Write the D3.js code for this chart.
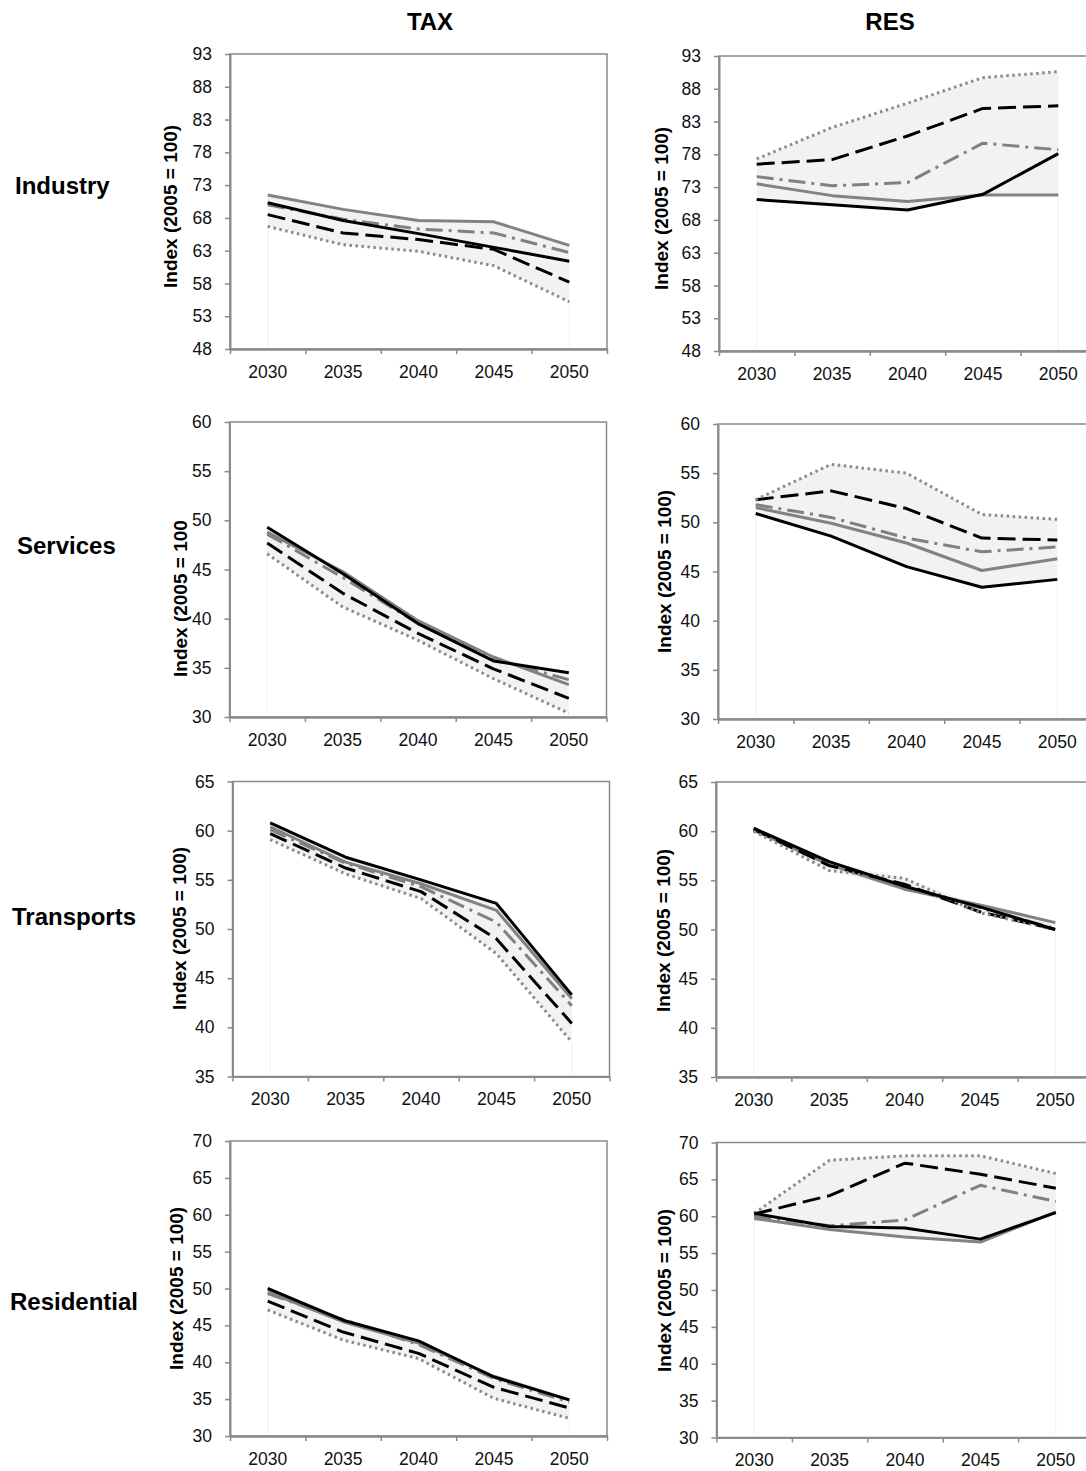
<!DOCTYPE html>
<html>
<head>
<meta charset="utf-8">
<script src="https://cdn.jsdelivr.net/npm/d3@7"></script>
<style>
  body { margin: 0; background: #fff; }
  svg { display: block; font-family: "Liberation Sans", Arial, sans-serif; }
</style>
</head>
<body>
<svg id="chart" width="1086" height="1471"></svg>
<script>
// ---- data -------------------------------------------------------------
const years = ["2030", "2035", "2040", "2045", "2050"];
const scenarios = ["TAX", "RES"];
const sectors = ["Industry", "Services", "Transports", "Residential"];
const seriesKeys = ["grey", "dashDot", "dashed", "dotted", "black"];

const industryTicks    = [48, 53, 58, 63, 68, 73, 78, 83, 88, 93];
const servicesTicks    = [30, 35, 40, 45, 50, 55, 60];
const transportsTicks  = [35, 40, 45, 50, 55, 60, 65];
const residentialTicks = [30, 35, 40, 45, 50, 55, 60, 65, 70];

const industryTAX = {
  grey:    [71.5, 69.3, 67.6, 67.4, 63.8],
  dashDot: [70.0, 67.8, 66.3, 65.7, 62.7],
  dashed:  [68.5, 65.7, 64.7, 63.2, 58.2],
  dotted:  [66.7, 63.9, 62.9, 60.7, 55.2],
  black:   [70.3, 67.6, 65.6, 63.5, 61.4]
};
const industryRES = {
  grey:    [73.5, 71.7, 70.8, 71.8, 71.8],
  dashDot: [74.6, 73.2, 73.7, 79.7, 78.7],
  dashed:  [76.5, 77.2, 80.8, 85.0, 85.4],
  dotted:  [77.3, 82.1, 85.8, 89.7, 90.6],
  black:   [71.1, 70.3, 69.5, 71.9, 78.1]
};
const servicesTAX = {
  grey:    [48.8, 44.8, 39.8, 36.1, 33.3],
  dashDot: [48.6, 44.2, 39.5, 35.9, 33.8],
  dashed:  [47.7, 42.6, 38.5, 34.9, 31.9],
  dotted:  [46.6, 41.2, 37.8, 33.9, 30.4],
  black:   [49.3, 44.6, 39.5, 35.7, 34.5]
};
const servicesRES = {
  grey:    [51.5, 49.9, 47.9, 45.1, 46.3],
  dashDot: [51.8, 50.5, 48.4, 47.0, 47.5],
  dashed:  [52.3, 53.2, 51.4, 48.4, 48.2],
  dotted:  [52.3, 55.9, 55.0, 50.8, 50.3],
  black:   [50.9, 48.6, 45.5, 43.4, 44.2]
};
const transportsTAX = {
  grey:    [60.4, 56.8, 54.6, 51.9, 42.9],
  dashDot: [60.1, 56.7, 54.3, 50.7, 42.2],
  dashed:  [59.7, 56.2, 53.8, 49.0, 40.4],
  dotted:  [59.1, 55.6, 53.1, 47.5, 38.5],
  black:   [60.8, 57.3, 55.0, 52.6, 43.3]
};
const transportsRES = {
  grey:    [60.1, 56.6, 54.1, 52.5, 50.7],
  dashDot: [60.2, 56.7, 54.3, 52.2, 50.1],
  dashed:  [60.2, 56.5, 54.6, 51.8, 50.0],
  dotted:  [60.0, 56.0, 55.2, 51.7, 50.0],
  black:   [60.3, 56.9, 54.4, 52.3, 50.0]
};
const residentialTAX = {
  grey:    [49.5, 45.5, 42.6, 38.1, 34.9],
  dashDot: [49.3, 45.8, 42.4, 37.8, 34.6],
  dashed:  [48.3, 44.1, 41.2, 36.6, 33.8],
  dotted:  [47.1, 43.0, 40.5, 35.1, 32.4],
  black:   [50.0, 45.7, 42.9, 38.0, 34.9]
};
const residentialRES = {
  grey:    [59.7, 58.2, 57.2, 56.5, 60.6],
  dashDot: [60.0, 58.7, 59.5, 64.2, 62.0],
  dashed:  [60.3, 62.8, 67.2, 65.7, 63.8],
  dotted:  [60.4, 67.6, 68.2, 68.2, 65.8],
  black:   [60.4, 58.6, 58.4, 56.9, 60.5]
};

// ---- styling -----------------------------------------------------------
const lineStyle = {
  grey:    { stroke: "#828282", dash: null },
  dashDot: { stroke: "#808080", dash: "17,6,3,6" },
  dashed:  { stroke: "#000000", dash: "18,7" },
  dotted:  { stroke: "#8a8a8a", dash: "2.5,3.5" },
  black:   { stroke: "#000000", dash: null }
};
const axisColor = "#8a8a8a";
const plotW = 377, plotH = 295;

// one entry per small-multiple panel: where it sits and which data it shows
const panels = [
  { data: industryTAX,    ticks: industryTicks,    left: 230,   top: 54,    labelX: 177, labelStart: 288,  label: "Index (2005 = 100)" },
  { data: industryRES,    ticks: industryTicks,    left: 719,   top: 56,    labelX: 668, labelStart: 290,  label: "Index (2005 = 100)" },
  { data: servicesTAX,    ticks: servicesTicks,    left: 229.5, top: 422,   labelX: 187, labelStart: 677,  label: "Index (2005 = 100" },
  { data: servicesRES,    ticks: servicesTicks,    left: 718,   top: 424,   labelX: 671, labelStart: 653,  label: "Index (2005 = 100)" },
  { data: transportsTAX,  ticks: transportsTicks,  left: 232.5, top: 781.5, labelX: 186, labelStart: 1010, label: "Index (2005 = 100)" },
  { data: transportsRES,  ticks: transportsTicks,  left: 716,   top: 782,   labelX: 670, labelStart: 1012, label: "Index (2005 = 100)" },
  { data: residentialTAX, ticks: residentialTicks, left: 230,   top: 1141,  labelX: 183, labelStart: 1370, label: "Index (2005 = 100)" },
  { data: residentialRES, ticks: residentialTicks, left: 716.5, top: 1142.5,labelX: 671, labelStart: 1372, label: "Index (2005 = 100)" }
];

const rowLabels = [
  { text: sectors[0], x: 15, y: 194 },
  { text: sectors[1], x: 17, y: 554 },
  { text: sectors[2], x: 12, y: 925 },
  { text: sectors[3], x: 10, y: 1310 }
];
const colTitles = [
  { text: scenarios[0], x: 430, y: 30 },
  { text: scenarios[1], x: 890, y: 30 }
];

// ---- drawing -----------------------------------------------------------
const svg = d3.select("#chart");

colTitles.forEach(t => {
  svg.append("text").attr("x", t.x).attr("y", t.y)
    .attr("text-anchor", "middle").attr("font-size", 24).attr("font-weight", "bold")
    .attr("fill", "#000").text(t.text);
});
rowLabels.forEach(t => {
  svg.append("text").attr("x", t.x).attr("y", t.y)
    .attr("font-size", 24).attr("font-weight", "bold")
    .attr("fill", "#000").text(t.text);
});

panels.forEach(p => {
  const g = svg.append("g").attr("transform", `translate(${p.left},${p.top})`);
  const x = d3.scaleBand().domain(years).range([0, plotW]).padding(0);
  const cx = yr => x(yr) + x.bandwidth() / 2;
  const y = d3.scaleLinear().domain([p.ticks[0], p.ticks[p.ticks.length - 1]]).range([plotH, 0]);

  // plot frame (top and right edges)
  g.append("rect").attr("x", 0).attr("y", 0).attr("width", plotW).attr("height", plotH)
    .attr("fill", "none").attr("stroke", axisColor).attr("stroke-width", 1.5);

  // envelope between lowest and highest series
  const env = years.map((yr, i) => {
    const vals = seriesKeys.map(k => p.data[k][i]);
    return { yr, lo: d3.min(vals), hi: d3.max(vals) };
  });
  g.append("path").datum(env)
    .attr("fill", "#f2f2f2")
    .attr("d", d3.area().x(d => cx(d.yr)).y0(d => y(d.lo)).y1(d => y(d.hi)));
  [env[0], env[env.length - 1]].forEach(d => {
    g.append("line").attr("x1", cx(d.yr)).attr("x2", cx(d.yr))
      .attr("y1", y(d.lo)).attr("y2", plotH)
      .attr("stroke", "#f0f0f0").attr("stroke-width", 1);
  });

  // series lines
  const line = d3.line().x((d, i) => cx(years[i])).y(d => y(d));
  seriesKeys.forEach(k => {
    const st = lineStyle[k];
    g.append("path").datum(p.data[k])
      .attr("fill", "none").attr("stroke", st.stroke).attr("stroke-width", 3)
      .attr("stroke-linejoin", "round")
      .attr("stroke-dasharray", st.dash)
      .attr("d", line);
  });

  // y axis
  const ya = g.append("g").call(d3.axisLeft(y).tickValues(p.ticks).tickSize(5).tickSizeOuter(0).tickPadding(13));
  // x axis: labels centred in categories, ticks on category boundaries
  const xa = g.append("g").attr("transform", `translate(0,${plotH})`)
    .call(d3.axisBottom(x).tickSize(0).tickPadding(16.5));
  const xb = g.append("g").attr("transform", `translate(0,${plotH})`)
    .call(d3.axisBottom(d3.scaleLinear().domain([0, years.length]).range([0, plotW]))
      .ticks(years.length).tickSize(5).tickSizeOuter(0).tickFormat(""));

  [ya, xa, xb].forEach(a => {
    a.select(".domain").attr("stroke", axisColor).attr("stroke-width", 2);
    a.selectAll(".tick line").attr("stroke", axisColor).attr("stroke-width", 1.5);
    a.selectAll(".tick text").attr("font-size", 17.5).attr("fill", "#111")
      .attr("font-family", "'Liberation Sans', Arial, sans-serif");
  });

  // y-axis title
  svg.append("text")
    .attr("transform", `translate(${p.labelX},${p.labelStart}) rotate(-90)`)
    .attr("font-size", 19).attr("font-weight", "bold").attr("fill", "#000")
    .text(p.label);
});
</script>
</body>
</html>
